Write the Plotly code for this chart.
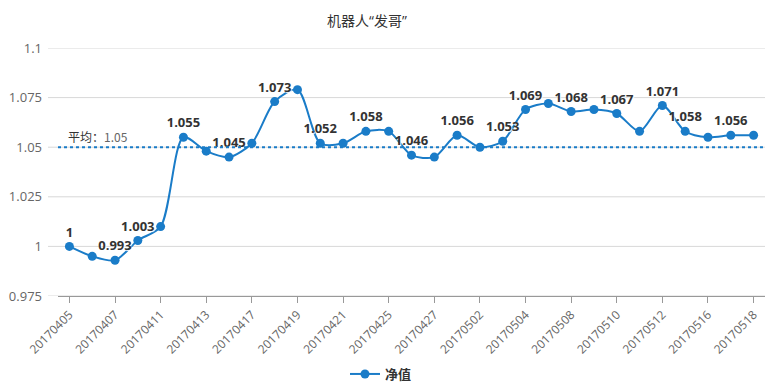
import plotly.graph_objects as go

dates = ["20170405", "20170406", "20170407", "20170410", "20170411", "20170412",
         "20170413", "20170414", "20170417", "20170418", "20170419", "20170420",
         "20170421", "20170424", "20170425", "20170426", "20170427", "20170428",
         "20170502", "20170503", "20170504", "20170505", "20170508", "20170509",
         "20170510", "20170511", "20170512", "20170515", "20170516", "20170517",
         "20170518"]
values = [1.000, 0.995, 0.993, 1.003, 1.010, 1.055, 1.048, 1.045, 1.052, 1.073,
          1.079, 1.052, 1.052, 1.058, 1.058, 1.046, 1.045, 1.056, 1.050, 1.053,
          1.069, 1.072, 1.068, 1.069, 1.067, 1.058, 1.071, 1.058, 1.055, 1.056,
          1.056]
labeled = [0, 2, 3, 5, 7, 9, 11, 13, 15, 17, 19, 20, 22, 24, 26, 27, 29]
tick_labels = dates[::2]
avg_value = 1.05
y_ticks = [0.975, 1.0, 1.025, 1.05, 1.075, 1.1]
y_tick_text = ["0.975", "1", "1.025", "1.05", "1.075", "1.1"]

W, H = 778, 387
L, R, T, B = 58, 13, 48, 91
pw = W - L - R
ph = H - T - B

color = "#1a7cc8"
texts = [("1" if v == 1.0 else f"{v:.3f}") if i in labeled else "" for i, v in enumerate(values)]

fig = go.Figure()
fig.add_trace(go.Scatter(
    x=list(range(len(dates))), y=values, mode="lines+markers+text",
    name="净值", line=dict(color=color, width=2, shape="spline", smoothing=0.8),
    marker=dict(color=color, size=9),
    text=texts, textposition="top center",
    textfont=dict(family="Open Sans, DejaVu Sans, sans-serif", size=13, color="#333333", weight="bold",
                  shadow="1px 1px 1px white"),
    cliponaxis=False,
))

shapes = []
for yv in y_ticks:
    shapes.append(dict(type="line", xref="paper", yref="y", x0=(48 - L) / pw, x1=1, y0=yv, y1=yv,
                       line=dict(color="#d8d8d8", width=1), layer="below"))
shapes.append(dict(type="line", xref="paper", yref="y", x0=0, x1=1, y0=avg_value, y1=avg_value,
                   line=dict(color=color, width=2, dash="dot")))

q = "<span style='font-family:Open Sans'>"
annotations = [
    dict(x=(367 - L) / pw, y=(H - 20 - B) / ph, xref="paper", yref="paper",
         text="机器人" + q + "“</span>发哥" + q + "”</span>", showarrow=False,
         xanchor="center", yanchor="middle",
         font=dict(family="Noto Sans CJK SC, sans-serif", size=14, color="#333333")),
    dict(x=(66 - L) / pw, y=avg_value, xref="paper", yref="y", xanchor="left", yanchor="bottom",
         text="平均：<span style='color:#666666'>1.05</span>", showarrow=False, yshift=0,
         font=dict(family="Noto Sans CJK SC, sans-serif", size=12, color="#333333")),
]

fig.update_layout(
    width=W, height=H, margin=dict(l=L, r=R, t=T, b=B, autoexpand=False),
    plot_bgcolor="white", paper_bgcolor="white",
    showlegend=True,
    legend=dict(orientation="h", x=(381 - L) / pw, xanchor="center",
                y=-(374 - (H - B)) / ph, yanchor="middle",
                font=dict(family="Noto Sans CJK SC, sans-serif", size=13, color="#333333", weight="bold")),
    shapes=shapes, annotations=annotations,
    xaxis=dict(range=[-0.5, len(dates) - 0.5], tickmode="array", automargin=False,
               tickvals=list(range(0, len(dates), 2)), ticktext=tick_labels,
               tickangle=-45, showgrid=False, showline=True, linecolor="#999999", linewidth=1,
               ticks="outside", ticklen=6, tickcolor="#999999",
               tickfont=dict(family="Open Sans, DejaVu Sans, sans-serif", size=12, color="#666666"),
               zeroline=False),
    yaxis=dict(range=[0.975, 1.1], tickmode="array", tickvals=y_ticks, ticktext=y_tick_text,
               automargin=False,
               showgrid=False, zeroline=False, showline=False, ticks="", ticklabelstandoff=15,
               tickfont=dict(family="Open Sans, DejaVu Sans, sans-serif", size=13, color="#666666")),
)

fig.write_html("out.html", config={"displayModeBar": False},
               post_script="document.body.style.margin='0';document.body.style.overflow='hidden';")
